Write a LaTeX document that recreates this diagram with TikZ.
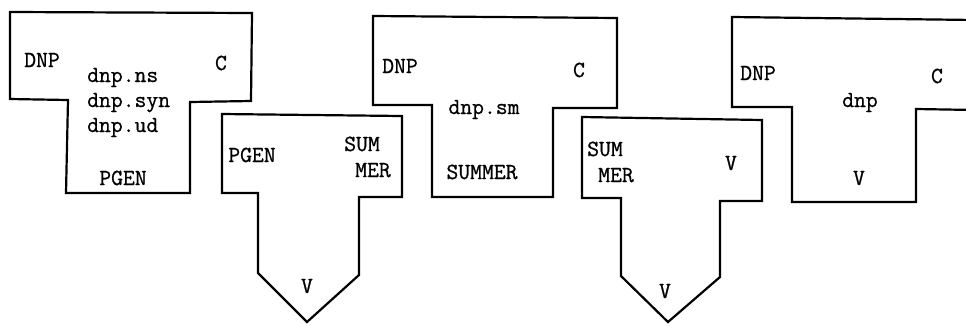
\documentclass[tikz,border=0pt]{standalone}
\usepackage{fontspec}
\setmonofont[FakeBold=0.8]{Latin Modern Mono}
\usetikzlibrary{positioning}
\tikzset{
  outline/.style={draw, line width=2.2pt, line join=miter},
  lbl/.style={font=\fontsize{23}{25}\selectfont\ttfamily, inner sep=0pt, anchor=base},
  lline/.style={lbl, anchor=base west}
}
\begin{document}
\begin{tikzpicture}[x=1pt,y=-1pt]
\clip (0,0) rectangle (966,325);
% DNP -> PGEN
\draw[outline] (10,12) -- (252,13) -- (251,101) -- (190,102) -- (190,193) -- (66,193) -- (68,100) -- (10,99) -- cycle;
\node[lbl] (dnpa) at (42,67) {DNP};
\node[lbl] (ca) at (221,70) {C};
\node[lline] (ns) at (87,82) {dnp.ns};
\node[lline] (syn) at (87,107) {dnp.syn};
\node[lline] (ud) at (87,132) {dnp.ud};
\node[lbl] (pgena) at (123,185) {PGEN};
% PGEN, SUMMER -> V
\draw[outline] (222,114) -- (402,116) -- (402,197) -- (359,197) -- (359,275) -- (307,322) -- (258,273) -- (258,193) -- (222,193) -- cycle;
\node[lbl] (pgenb) at (252,162) {PGEN};
\node[lbl] (sumb) at (362,151) {SUM};
\node[lbl] (merb) at (373,177) {MER};
\node[lbl] (vb) at (307,293) {V};
% DNP -> SUMMER
\draw[outline] (373,16) -- (617,18) -- (617,108) -- (553,108) -- (553,197) -- (432,197) -- (432,105) -- (373,105) -- cycle;
\node[lbl] (dnpc) at (400,73) {DNP};
\node[lbl] (cc) at (579,77) {C};
\node[lbl] (sm) at (484,114) {dnp.sm};
\node[lbl] (summer) at (482,179) {SUMMER};
% SUMMER, V -> V
\draw[outline] (582,117) -- (762,120) -- (762,201) -- (720,201) -- (720,277) -- (668,322) -- (621,276) -- (621,198) -- (582,198) -- cycle;
\node[lbl] (sumd) at (605,156) {SUM};
\node[lbl] (merd) at (616,182) {MER};
\node[lbl] (vd) at (731,170) {V};
\node[lbl] (vdd) at (665,298) {V};
% DNP -> V
\draw[outline] (975,20) -- (732,17) -- (732,107) -- (792,107) -- (792,202) -- (916,202) -- (916,109) -- (975,110);
\node[lbl] (dnpe) at (758,80) {DNP};
\node[lbl] (ce) at (937,83) {C};
\node[lbl] (dnp) at (860,107) {dnp};
\node[lbl] (ve) at (859,185) {V};
\end{tikzpicture}
\end{document}
